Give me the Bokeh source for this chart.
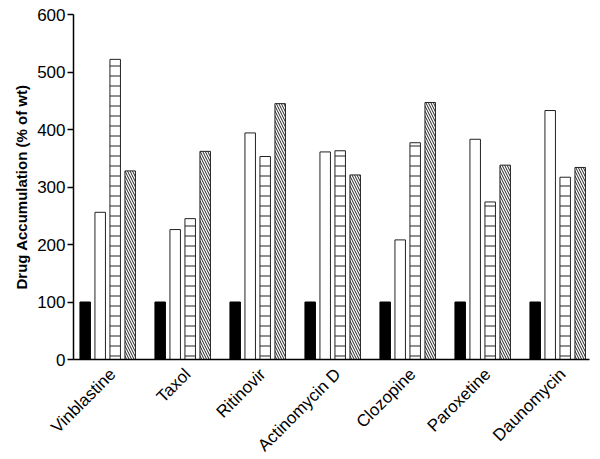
import math
from bokeh.plotting import figure
from bokeh.models import Range1d, FixedTicker, ColumnDataSource
from bokeh.embed import file_html
from bokeh.resources import INLINE

drugs = ["Vinblastine", "Taxol", "Ritinovir", "Actinomycin D", "Clozopine", "Paroxetine", "Daunomycin"]
wild_type = [100, 100, 100, 100, 100, 100, 100]
mutant_a = [256, 226, 394, 361, 208, 383, 433]
mutant_b = [522, 245, 353, 363, 377, 274, 317]
mutant_c = [328, 362, 445, 321, 447, 338, 334]
y_ticks = [0, 100, 200, 300, 400, 500, 600]

idx = list(range(len(drugs)))
offsets = [-0.3, -0.1, 0.1, 0.3]
width = 0.14
shift = -0.067  # group centre relative to its label tick

# the frame fills the whole canvas; both axes sit at fixed data locations
x_start = -0.093 - 1.4293
x_axis_left = x_start + 0.9733
x_axis_right = x_axis_left + 6.88
p = figure(width=600, height=459, output_backend="svg", toolbar_location=None,
           x_range=Range1d(x_start + (shift + 0.093), x_start + (shift + 0.093) + 8.0),
           y_range=Range1d(-173.9, 624.35),
           min_border_left=0, min_border_right=0, min_border_top=0, min_border_bottom=0)
x_axis_left += shift + 0.093
x_axis_right += shift + 0.093
p.outline_line_color = None
p.grid.visible = False
p.background_fill_color = "white"
p.border_fill_color = "white"

series = [
    (wild_type, dict(fill_color="black", line_color="black")),
    (mutant_a, dict(fill_color="white", line_color="#222222")),
    (mutant_b, dict(fill_color="white", line_color="#222222", hatch_pattern="-", hatch_scale=10, hatch_weight=1, hatch_color="#222222")),
    (mutant_c, dict(fill_color="white", line_color="#222222", hatch_pattern="\\", hatch_scale=5, hatch_weight=1, hatch_color="#222222")),
]
for (vals, style), off in zip(series, offsets):
    src = ColumnDataSource(dict(x=[i + shift + off for i in idx], top=vals))
    p.vbar(x="x", top="top", bottom=0, width=width, source=src, line_width=1, **style)

# y axis
ya = p.yaxis[0]
ya.fixed_location = x_axis_left
ya.bounds = (0, 600)
ya.ticker = FixedTicker(ticks=y_ticks)
ya.minor_tick_line_color = None
ya.major_tick_out = 6
ya.major_tick_in = 0
ya.major_tick_line_width = 1.5
ya.axis_line_width = 1.5
ya.major_label_text_font = "Liberation Sans"
ya.major_label_text_font_size = "17px"
ya.major_label_text_color = "black"
ya.major_label_standoff = 2
ya.axis_label = "Drug Accumulation (% of wt)"
ya.axis_label_text_font = "Liberation Sans"
ya.axis_label_text_font_style = "bold"
ya.axis_label_text_font_size = "15px"
ya.axis_label_text_color = "black"
ya.axis_label_standoff = 4

# x axis at zero, category names rotated
xa = p.xaxis[0]
xa.fixed_location = 0
xa.bounds = (x_axis_left, x_axis_right)
xa.ticker = FixedTicker(ticks=idx)
xa.major_label_overrides = {i: d for i, d in zip(idx, drugs)}
xa.major_label_orientation = math.pi / 4
xa.major_tick_line_color = None
xa.minor_tick_line_color = None
xa.axis_line_width = 1.5
xa.major_label_text_font = "Liberation Sans"
xa.major_label_text_font_size = "17px"
xa.major_label_text_color = "black"
xa.major_label_standoff = 6

open("out.html", "w").write(file_html(p, INLINE))
